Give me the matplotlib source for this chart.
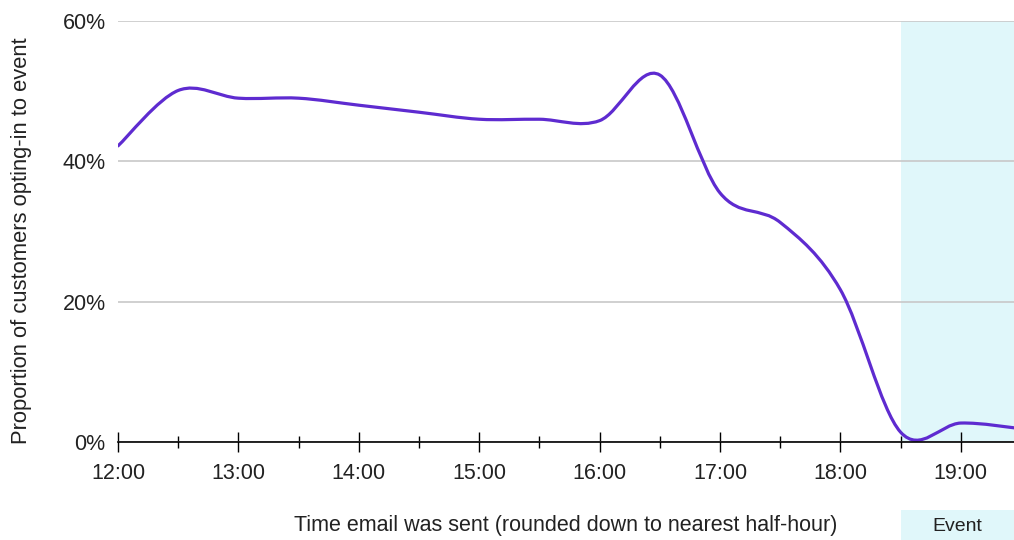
import numpy as np
import matplotlib
matplotlib.use("Agg")
import matplotlib.pyplot as plt
from matplotlib.path import Path
from matplotlib.patches import PathPatch, Rectangle
from matplotlib.transforms import blended_transform_factory

plt.rcParams['font.family'] = ['Liberation Sans', 'DejaVu Sans']

# half-hourly send times and opt-in proportion (%)
times = ["12:00", "12:30", "13:00", "13:30", "14:00", "14:30", "15:00", "15:30",
         "16:00", "16:30", "17:00", "17:30", "18:00", "18:30", "19:00", "19:30"]
opt_in = [42.2, 50.1, 49.0, 49.0, 48.0, 47.0, 46.0, 46.0,
          45.8, 52.3, 35.5, 31.3, 21.7, 1.4, 2.7, 1.9]
tick_labels = ["12:00", "13:00", "14:00", "15:00", "16:00", "17:00", "18:00", "19:00"]
y_ticks = [0, 20, 40, 60]
event_start = "18:30"


def to_hours(t):
    h, m = t.split(":")
    return int(h) - 12 + int(m) / 60.0


def smooth_path(x, y):
    """Cubic Bezier path through the points (Catmull-Rom tangents)."""
    pts = np.column_stack([x, y])
    n = len(pts)
    verts = [pts[0]]
    codes = [Path.MOVETO]
    for i in range(n - 1):
        p0 = pts[max(i - 1, 0)]
        p1 = pts[i]
        p2 = pts[i + 1]
        p3 = pts[min(i + 2, n - 1)]
        c1 = p1 + (p2 - p0) / 6.0
        c2 = p2 - (p3 - p1) / 6.0
        verts += [c1, c2, p2]
        codes += [Path.CURVE4] * 3
    return Path(verts, codes)


x = np.array([to_hours(t) for t in times])
y = np.array(opt_in)
x_end = (1014 - 118) / 120.4

fig = plt.figure(figsize=(10.14, 5.4), dpi=100)
ax = fig.add_axes([118 / 1014, 98 / 540, 1 - 118 / 1014, 421 / 540])

ax.axvspan(to_hours(event_start), x_end, color="#e0f7fa", zorder=0, lw=0)

line = PathPatch(smooth_path(x, y), facecolor="none", edgecolor="#5e2bd0",
                 lw=2.3, zorder=3, capstyle="round", joinstyle="round")
ax.add_patch(line)

ax.set_xlim(0, x_end)
ax.set_ylim(0, 60)

ax.set_yticks(y_ticks)
ax.set_yticklabels([f"{v}%" for v in y_ticks])
ax.yaxis.grid(True, color="#c8c8c8", lw=1.2, zorder=1)
ax.set_axisbelow(True)

ax.set_xticks([to_hours(t) for t in tick_labels])
ax.set_xticklabels(tick_labels)
ax.set_xticks(np.arange(0.5, x_end, 1.0), minor=True)

for s in ["top", "right", "left"]:
    ax.spines[s].set_visible(False)
ax.spines["bottom"].set_color("black")
ax.spines["bottom"].set_linewidth(1.2)
ax.spines["bottom"].set_zorder(4)

ax.tick_params(axis="y", length=0, pad=9, labelsize=15.5, colors="#222222")
ax.tick_params(axis="x", which="major", direction="inout", length=14, width=1.0,
               pad=8, labelsize=15.5, colors="black", labelcolor="#222222")
ax.tick_params(axis="x", which="minor", direction="inout", length=8, width=1.0)

ax.set_ylabel("Proportion of customers opting-in to event", fontsize=15.8, color="#222222")
ax.yaxis.set_label_coords(-0.096, 0.477)

fig.text(0.558, 0.008, "Time email was sent (rounded down to nearest half-hour)",
         fontsize=15.5, color="#222222", ha="center", va="bottom")

# event label box under the axis
trans = blended_transform_factory(ax.transData, fig.transFigure)
fig.patches.append(Rectangle((to_hours(event_start), 0), x_end - to_hours(event_start),
                             30 / 540, transform=trans, color="#e0f7fa", lw=0))
fig.text((to_hours(event_start) + x_end) / 2, 0.010, "Event", transform=trans,
         fontsize=14, color="#222222", ha="center", va="bottom")

fig.savefig("out.png", dpi=100)
